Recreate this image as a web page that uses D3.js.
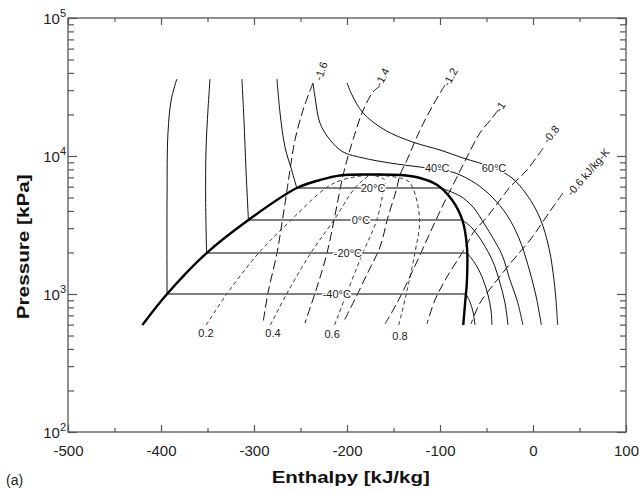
<!DOCTYPE html>
<html>
<head>
<meta charset="utf-8">
<script src="https://cdn.jsdelivr.net/npm/d3@7"></script>
<style>
  body { margin: 0; background: #fff; }
  text { font-family: "Liberation Sans", Arial, Helvetica, sans-serif; }
</style>
</head>
<body>
<svg width="639" height="494"></svg>
<script>
// enthalpy [kJ/kg], pressure [kPa]
const satDome = [[-420,596],[-393.5,1000],[-351,1980],[-306,3440],[-254,5860],[-229,6700],[-207.5,7230],
  [-175,7340],[-143,7280],[-121.5,6930],[-103,6170],[-87,4800],[-76,3440],[-71,2190],[-71,1260],[-73,861],[-75,596]];

// isotherms inside the dome
const satTemps = ["-40°C", "-20°C", "0°C", "20°C"];
const satP = [1000, 1980, 3440, 5860];
const satHl = [-393.5, -351, -306, -254];
const satHv = [-72, -71, -76, -99];

// isotherms outside the dome
const isoM40Liq = [[-393.5,1000],[-393.5,4800],[-392.5,14700],[-389,25500],[-383,36100]];
const isoM20Liq = [[-351,1980],[-352,4800],[-351.6,11050],[-349.5,21500],[-347.3,36100]];
const iso0Liq = [[-306,3440],[-308.6,7920],[-310.8,18200],[-313,36100]];
const iso20Liq = [[-254,5860],[-259.5,7920],[-266.7,11600],[-272,20500],[-275.3,36100]];
const isoM40Vap = [[-72,1000],[-67.7,875],[-64.5,741],[-62.4,596]];
const isoM20Vap = [[-71,1980],[-63.4,1710],[-54.8,1330],[-48.4,984],[-45.2,766],[-44.1,596]];
const iso0Vap = [[-76,3440],[-65.6,3010],[-53.8,2340],[-43,1710],[-35.5,1200],[-30.1,861],[-26.9,596]];
const iso20Vap = [[-99,5860],[-78.5,5130],[-64.5,4270],[-51.6,3160],[-43,2540],[-33.3,1920],[-24.7,1260],[-17.2,905],[-10.8,596]];
const iso40 = [[-236.6,33800],[-234.4,26800],[-229,17300],[-218.3,13100],[-204.3,10700],[-182.8,9680],[-153.8,8900],
  [-121.5,8320],[-103,8050],[-83.9,7540],[-62.4,6370],[-44.1,5050],[-28,3730],[-15.1,2540],[-5.4,1620],[3,984],[9,596]];
const iso60 = [[-200,33800],[-194.6,27700],[-182.8,20500],[-159.1,15400],[-129,12600],[-100,11050],[-75.3,9680],
  [-42,8190],[-22.6,6930],[-6.5,5220],[7.5,3550],[17.2,2150],[22.6,1260],[24.7,905],[26.5,596]];
const isoLabels = ["-40°C", "-20°C", "0°C", "20°C", "40°C", "60°C"];
const isoLabelAt = [[-211,1000],[-199,1980],[-185,3440],[-172,5860],[-103,8190],[-42,8190]];

// constant quality lines
const q02 = [[-351.4,596],[-329.2,1000],[-295,1980],[-260,3440],[-222.8,5860],[-205.8,6700],[-175,7340]];
const q04 = [[-282.4,596],[-264.9,1000],[-239,1980],[-214,3440],[-191.6,5860],[-182.6,6700],[-175,7340]];
const q06 = [[-213.3,596],[-200.6,1000],[-183,1980],[-168,3440],[-160.4,5860],[-159.4,6700],[-175,7340]];
const q08 = [[-144.3,596],[-136.3,1000],[-127,1980],[-122,3440],[-129.2,5860],[-136.2,6700],[-175,7340]];
const qLabels = ["0.2", "0.4", "0.6", "0.8"];
const qLabelAt = [[-351.6,521],[-279.6,521],[-216,513],[-143,497]];

// constant entropy lines [kJ/kg-K]
const sM16 = [[-236.6,33800],[-247.3,21500],[-255.9,13100],[-261.3,7920],[-264.5,5670],[-269.9,3270],[-275.3,1980],[-285,1016],[-290.3,617]];
const sM14 = [[-164.5,32100],[-172,29100],[-183.9,20500],[-193.5,13100],[-200,9360],[-205.4,6700],[-211.8,4060],[-221.5,1980],[-232.3,1120],[-245.2,617]];
const sM12 = [[-94.6,32700],[-107.5,23400],[-121.5,15400],[-135.5,9360],[-143,7280],[-147,5670],[-155.9,3610],[-164.5,2190],[-176.3,1490],[-190.3,951],[-204.3,617]];
const sM10 = [[-37.6,21500],[-44.1,18800],[-57,14700],[-70.9,9840],[-81.7,7050],[-91.4,5220],[-97.8,4270],[-110.8,2770],[-129,1490],[-146.2,861],[-159.1,607]];
const sM08 = [[10.8,11400],[-6.5,7920],[-24.7,5960],[-35.5,4800],[-49.5,3610],[-64.5,2770],[-73.1,2150],[-92.5,1330],[-105.4,905],[-114,607]];
const sM06 = [[32.3,5400],[21.5,4270],[9.7,3270],[-3.2,2460],[-21.5,1760],[-38.7,1260],[-57,861],[-66.7,607]];
const sLabels = ["-1.6", "-1.4", "-1.2", "-1", "-0.8", "-0.6 kJ/kg-K"];
const sLabelAt = [[-228,41300],[-162.4,37300],[-89.2,37300],[-35.5,22700],[19.4,14400],[59.1,7660]];
const sLabelAngle = [-70, -63, -61, -57, -52, -49];

// axes
const xMajor = [-500, -400, -300, -200, -100, 0, 100];
const xMinor = [-450, -350, -250, -150, -50, 50];
const yMajor = [100, 1000, 10000, 100000];
const yExp = ["2", "3", "4", "5"];
const yMinor = [2,3,4,5,6,7,8,9].flatMap(m => [100, 1000, 10000].map(d => m * d));

const svg = d3.select("svg");
const width = +svg.attr("width");
const height = +svg.attr("height");
const margin = { top: 18, right: 13, bottom: 62, left: 68 };
const innerWidth = width - margin.left - margin.right;
const innerHeight = height - margin.top - margin.bottom;

const x = d3.scaleLinear().domain([-500, 100]).range([0, innerWidth]);
const y = d3.scaleLog().domain([100, 100000]).range([innerHeight, 0]);

const g = svg.append("g").attr("transform", `translate(${margin.left},${margin.top})`);

const axisColor = "#555";
function styleAxis(sel) {
  sel.select(".domain").remove();
  sel.selectAll(".tick line").attr("stroke", axisColor).attr("stroke-width", 1.2);
  sel.selectAll(".tick text").attr("font-size", 15).attr("fill", "#222")
    .style("font-family", '"Liberation Sans", Arial, sans-serif');
}
// ticks only, no labels
function bareAxis(sel) {
  styleAxis(sel);
  sel.selectAll(".tick text").remove();
}

g.append("g").attr("transform", `translate(0,${innerHeight})`)
  .call(d3.axisBottom(x).tickValues(xMajor).tickSizeInner(-7).tickSizeOuter(0).tickPadding(13).tickFormat(d => String(d)))
  .call(styleAxis);
g.append("g").attr("transform", `translate(0,${innerHeight})`)
  .call(d3.axisBottom(x).tickValues(xMinor).tickSizeInner(-4).tickSizeOuter(0))
  .call(bareAxis);
g.append("g")
  .call(d3.axisTop(x).tickValues(xMajor).tickSizeInner(-7).tickSizeOuter(0))
  .call(bareAxis);
g.append("g")
  .call(d3.axisTop(x).tickValues(xMinor).tickSizeInner(-4).tickSizeOuter(0))
  .call(bareAxis);
g.append("g")
  .call(d3.axisLeft(y).tickValues(yMajor).tickSizeInner(-9).tickSizeOuter(0))
  .call(bareAxis);
g.append("g")
  .call(d3.axisLeft(y).tickValues(yMinor).tickSizeInner(-6).tickSizeOuter(0))
  .call(bareAxis);
g.append("g").attr("transform", `translate(${innerWidth},0)`)
  .call(d3.axisRight(y).tickValues(yMajor).tickSizeInner(-9).tickSizeOuter(0))
  .call(bareAxis);
g.append("g").attr("transform", `translate(${innerWidth},0)`)
  .call(d3.axisRight(y).tickValues(yMinor).tickSizeInner(-6).tickSizeOuter(0))
  .call(bareAxis);

g.append("rect")
  .attr("width", innerWidth).attr("height", innerHeight)
  .attr("fill", "none").attr("stroke", axisColor).attr("stroke-width", 1.3);

// y tick labels as 10^n
const yLab = g.append("g").selectAll("text")
  .data(yMajor)
  .enter().append("text")
  .attr("x", -2)
  .attr("y", d => y(d) + 6)
  .attr("text-anchor", "end")
  .attr("font-size", 15)
  .attr("fill", "#222");
yLab.append("tspan").text("10");
yLab.append("tspan").attr("font-size", 11).attr("dy", -7).text((d, i) => yExp[i]);

const line = d3.line()
  .x(d => x(d[0]))
  .y(d => y(d[1]))
  .curve(d3.curveCatmullRom.alpha(0.5));

// isotherms
const isoLines = [isoM40Liq, isoM20Liq, iso0Liq, iso20Liq, isoM40Vap, isoM20Vap, iso0Vap, iso20Vap, iso40, iso60];
g.selectAll(".iso")
  .data(isoLines)
  .enter().append("path")
  .attr("class", "iso")
  .attr("d", line)
  .attr("fill", "none")
  .attr("stroke", "#111")
  .attr("stroke-width", 1);

// constant quality lines
g.selectAll(".quality")
  .data([q02, q04, q06, q08])
  .enter().append("path")
  .attr("class", "quality")
  .attr("d", line)
  .attr("fill", "none")
  .attr("stroke", "#222")
  .attr("stroke-width", 0.9)
  .attr("stroke-dasharray", "4,3");

// constant entropy lines
g.selectAll(".entropy")
  .data([sM16, sM14, sM12, sM10, sM08, sM06])
  .enter().append("path")
  .attr("class", "entropy")
  .attr("d", line)
  .attr("fill", "none")
  .attr("stroke", "#111")
  .attr("stroke-width", 1)
  .attr("stroke-dasharray", "9,4");

// isotherms in the two-phase region
g.selectAll(".sat")
  .data(satP)
  .enter().append("line")
  .attr("class", "sat")
  .attr("x1", (d, i) => x(satHl[i]))
  .attr("x2", (d, i) => x(satHv[i]))
  .attr("y1", d => y(d))
  .attr("y2", d => y(d))
  .attr("stroke", "#555")
  .attr("stroke-width", 1.4);

// saturation dome
g.append("path")
  .datum(satDome)
  .attr("d", line)
  .attr("fill", "none")
  .attr("stroke", "#000")
  .attr("stroke-width", 2.4);

// labels
g.selectAll(".isoLabel")
  .data(isoLabels)
  .enter().append("text")
  .attr("class", "isoLabel")
  .attr("x", (d, i) => x(isoLabelAt[i][0]))
  .attr("y", (d, i) => y(isoLabelAt[i][1]))
  .attr("text-anchor", "middle")
  .attr("dominant-baseline", "central")
  .attr("font-size", 11)
  .attr("fill", "#222")
  .attr("stroke", "#fff")
  .attr("stroke-width", 3)
  .attr("paint-order", "stroke")
  .text(d => d);

g.selectAll(".qLabel")
  .data(qLabels)
  .enter().append("text")
  .attr("class", "qLabel")
  .attr("x", (d, i) => x(qLabelAt[i][0]))
  .attr("y", (d, i) => y(qLabelAt[i][1]))
  .attr("text-anchor", "middle")
  .attr("dominant-baseline", "central")
  .attr("font-size", 11)
  .attr("fill", "#222")
  .text(d => d);

g.selectAll(".sLabel")
  .data(sLabels)
  .enter().append("text")
  .attr("class", "sLabel")
  .attr("transform", (d, i) => `translate(${x(sLabelAt[i][0])},${y(sLabelAt[i][1])}) rotate(${sLabelAngle[i]})`)
  .attr("text-anchor", "middle")
  .attr("dominant-baseline", "central")
  .attr("font-size", 11)
  .attr("fill", "#222")
  .text(d => d);

// axis titles
svg.append("text")
  .attr("transform", `translate(29,${margin.top + y(2200)}) rotate(-90)`)
  .attr("text-anchor", "middle")
  .attr("font-size", 17)
  .attr("font-weight", "bold")
  .attr("fill", "#111")
  .attr("textLength", 145)
  .attr("lengthAdjust", "spacingAndGlyphs")
  .text("Pressure [kPa]");

svg.append("text")
  .attr("x", margin.left + x(-196))
  .attr("y", 483)
  .attr("text-anchor", "middle")
  .attr("font-size", 17)
  .attr("font-weight", "bold")
  .attr("fill", "#111")
  .attr("textLength", 158)
  .attr("lengthAdjust", "spacingAndGlyphs")
  .text("Enthalpy [kJ/kg]");

svg.append("text")
  .attr("x", 6)
  .attr("y", 485)
  .attr("font-size", 14)
  .attr("fill", "#222")
  .text("(a)");
</script>
</body>
</html>
